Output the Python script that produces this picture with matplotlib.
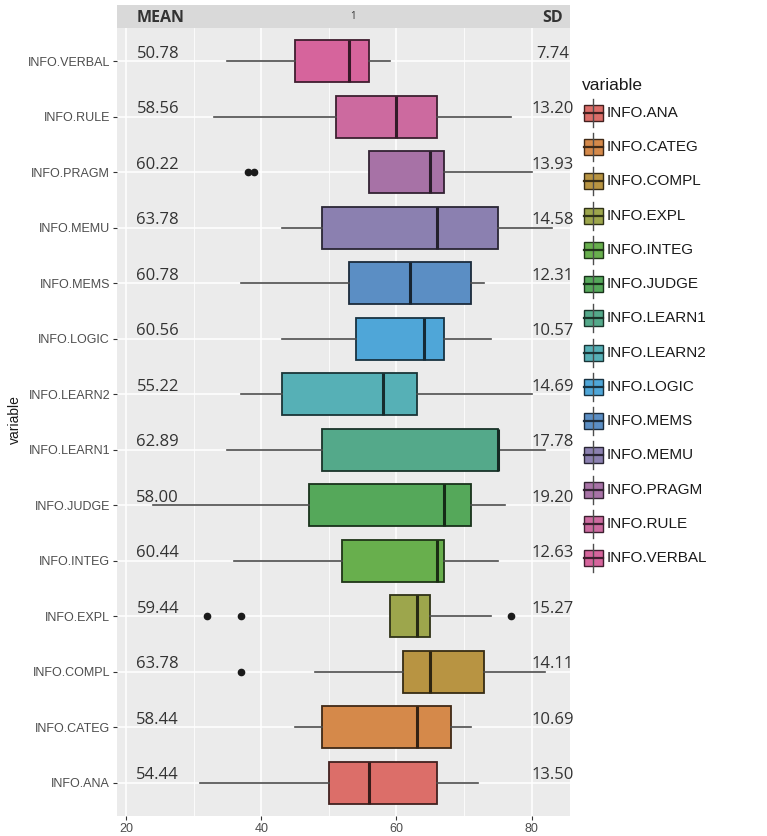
import matplotlib
matplotlib.use('Agg')
import matplotlib.pyplot as plt
from matplotlib.patches import Rectangle
from matplotlib import colors as mcolors
import numpy as np

# ---------------- data ----------------
variables = ['INFO.ANA', 'INFO.CATEG', 'INFO.COMPL', 'INFO.EXPL', 'INFO.INTEG',
             'INFO.JUDGE', 'INFO.LEARN1', 'INFO.LEARN2', 'INFO.LOGIC', 'INFO.MEMS',
             'INFO.MEMU', 'INFO.PRAGM', 'INFO.RULE', 'INFO.VERBAL']
whisk_lo = [31, 45, 48, 59, 36, 24, 35, 37, 43, 37, 43, 56, 33, 35]
q1       = [50, 49, 61, 59, 52, 47, 49, 43, 54, 53, 49, 56, 51, 45]
median   = [56, 63, 65, 63, 66, 67, 75, 58, 64, 62, 66, 65, 60, 53]
q3       = [66, 68, 73, 65, 67, 71, 75, 63, 67, 71, 75, 67, 66, 56]
whisk_hi = [72, 71, 82, 74, 75, 76, 82, 80, 74, 73, 83, 80, 77, 59]
outliers = [[], [], [37], [32, 37, 77], [], [], [], [], [], [], [], [38, 39], [], []]
means = [54.44, 58.44, 63.78, 59.44, 60.44, 58.00, 62.89, 55.22, 60.56, 60.78,
         63.78, 60.22, 58.56, 50.78]
sds = [13.50, 10.69, 14.11, 15.27, 12.63, 19.20, 17.78, 14.69, 10.57, 12.31,
       14.58, 13.93, 13.20, 7.74]
fill_colors = ['#dc6e69', '#d5894a', '#b89442', '#9da64c', '#68af4d', '#55a85a',
               '#54a98a', '#56b0b6', '#4fa6d8', '#5b8ec4', '#8b80b0', '#a772a6',
               '#cc6a9f', '#d6649c']
x_ticks = [20, 40, 60, 80]
x_minor = [30, 50, 70]

# ---------------- figure ----------------
W, H = 767, 836
fig = plt.figure(figsize=(W / 100, H / 100), dpi=100)
fig.patch.set_facecolor('white')

def fx(px):
    return px / W

def fy(py):
    return 1 - py / H

left_px, right_px, top_px, bot_px = 117, 570, 28, 816
ax = fig.add_axes([fx(left_px), fy(bot_px), fx(right_px - left_px), (bot_px - top_px) / H])
ax.set_facecolor('#ebebeb')

n = len(variables)
pos = np.arange(1, n + 1)

# grid
for v in x_ticks:
    ax.axvline(v, color='white', lw=1.1, zorder=0)
for v in x_minor:
    ax.axvline(v, color='white', lw=0.55, zorder=0)
for p in pos:
    ax.axhline(p, color='white', lw=1.1, zorder=0)

stats = []
for i in range(n):
    stats.append(dict(med=median[i], q1=q1[i], q3=q3[i], whislo=whisk_lo[i],
                      whishi=whisk_hi[i], fliers=outliers[i], label=variables[i]))

bp = ax.bxp(stats, positions=pos, widths=0.75, orientation='horizontal',
            patch_artist=True, showcaps=False, manage_ticks=False,
            flierprops=dict(marker='o', markerfacecolor='#1a1a1a', markeredgecolor='#1a1a1a',
                            markersize=4.5),
            whiskerprops=dict(color='#4d4d4d', lw=1.2),
            zorder=2)

def darken(c, f=0.35):
    r, g, b = mcolors.to_rgb(c)
    return (r * f, g * f, b * f)

for i, box in enumerate(bp['boxes']):
    box.set_facecolor(fill_colors[i])
    box.set_edgecolor(darken(fill_colors[i], 0.3))
    box.set_linewidth(1.3)
for i, med in enumerate(bp['medians']):
    med.set_color(darken(fill_colors[i], 0.25))
    med.set_linewidth(2.2)
    med.set_zorder(3)

# annotations (mean, sd)
for i in range(n):
    ax.text(24.7, pos[i] + 0.06, f'{means[i]:.2f}', ha='center', va='baseline',
            fontsize=12, color='#333333', family=['Open Sans', 'DejaVu Sans'], zorder=4)
    ax.text(83.1, pos[i] + 0.06, f'{sds[i]:.2f}', ha='center', va='baseline',
            fontsize=12, color='#333333', family=['Open Sans', 'DejaVu Sans'], zorder=4)

x_at = lambda px: 20 + (px - 126) / ((531.7 - 126) / 60)
ax.set_xlim(x_at(left_px), x_at(right_px))
ax.set_ylim(0.4, n + 0.6)

ax.set_xticks(x_ticks)
ax.set_xticks(x_minor, minor=True)
ax.tick_params(axis='x', which='minor', length=0)
ax.set_yticks(pos)
ax.set_yticklabels(variables)
ax.tick_params(axis='both', which='major', length=3, width=0.8, color='#333333',
               labelcolor='#4d4d4d', pad=2)
for lab in ax.get_yticklabels():
    lab.set_family(['Liberation Sans', 'DejaVu Sans'])
    lab.set_fontsize(9)
for lab in ax.get_xticklabels():
    lab.set_family(['Liberation Sans', 'DejaVu Sans'])
    lab.set_fontsize(9)
for s in ax.spines.values():
    s.set_visible(False)

fig.text(fx(15), fy(420), 'variable', rotation=90, ha='center', va='center',
         fontsize=10, color='#1a1a1a', family=['Liberation Sans', 'DejaVu Sans'])

# strip
sax = fig.add_axes([fx(left_px), fy(top_px), fx(right_px - left_px), (top_px - 5) / H])
sax.set_xlim(0, 1)
sax.set_ylim(0, 1)
sax.set_facecolor('#d9d9d9')
sax.set_xticks([])
sax.set_yticks([])
for s in sax.spines.values():
    s.set_visible(False)
sax.text((137 - left_px) / (right_px - left_px), 0.45, 'MEAN', ha='left', va='center',
         fontsize=11.5, fontweight='bold', color='#333333', family=['Open Sans', 'DejaVu Sans'])
sax.text((353 - left_px) / (right_px - left_px), 0.5, '1', ha='center', va='center',
         fontsize=7, color='#333333', family=['Open Sans', 'DejaVu Sans'])
sax.text((553 - left_px) / (right_px - left_px), 0.45, 'SD', ha='center', va='center',
         fontsize=11.5, fontweight='bold', color='#333333', family=['Open Sans', 'DejaVu Sans'])

# legend (manual boxplot glyphs)
lax = fig.add_axes([0, 0, 1, 1], facecolor='none')
lax.set_xlim(0, W)
lax.set_ylim(H, 0)
lax.axis('off')
lax.text(582, 85, 'variable', ha='left', va='center', fontsize=12.5, color='#1a1a1a',
         family=['Liberation Sans', 'DejaVu Sans'])
row0, dy = 113, (558 - 113) / 13
for i, name in enumerate(variables):
    yc = row0 + i * dy
    ec = darken(fill_colors[i], 0.3)
    lax.plot([593, 593], [yc - 14, yc + 14], color='#4d4d4d', lw=1.0)
    lax.add_patch(Rectangle((584, yc - 8), 19, 16, facecolor=fill_colors[i],
                            edgecolor=ec, lw=1.0))
    lax.plot([584, 603], [yc, yc], color=ec, lw=1.6)
    lax.text(607, yc, name, ha='left', va='center', fontsize=11, color='#1a1a1a',
             family=['Liberation Sans', 'DejaVu Sans'])

fig.savefig('out.png', dpi=100)
